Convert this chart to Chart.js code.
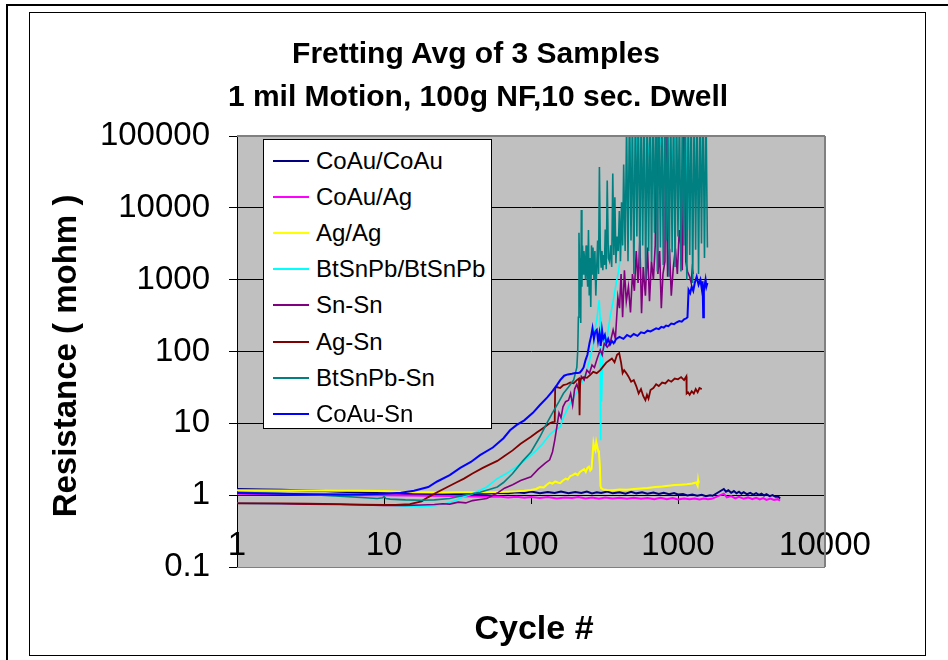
<!DOCTYPE html>
<html><head><meta charset="utf-8">
<script src="https://cdn.jsdelivr.net/npm/chart.js@4.4.1/dist/chart.umd.min.js"></script>
<style>
html,body{margin:0;padding:0;background:#fff;}
#wrap{position:relative;width:948px;height:660px;overflow:hidden;font-family:"Liberation Sans",Arial,sans-serif;color:#000;}
#c{position:absolute;left:0;top:0;}
.frame{position:absolute;left:29px;top:12px;width:895px;height:642px;border:1px solid #000;}
.outerL{position:absolute;left:6px;top:4px;width:2px;height:660px;background:#000;}
.outerT{position:absolute;left:6px;top:4px;width:942px;height:2px;background:#000;}
.t{position:absolute;font-weight:bold;white-space:nowrap;text-align:center;}
#legend{position:absolute;left:263px;top:139px;width:227px;height:288px;background:#fff;border:1px solid #000;}
.li{position:absolute;left:0;width:227px;height:36px;line-height:36px;font-size:24px;}
.li span.sw{position:absolute;left:9px;top:17px;width:36px;height:2px;}
.li span.tx{position:absolute;left:52px;top:0;}
</style></head>
<body><div id="wrap">
<div class="outerL"></div><div class="outerT"></div>
<div class="frame"></div>
<canvas id="c" width="948" height="660"></canvas>
<div class="t" style="left:0;width:952px;top:37px;font-size:30px;line-height:32px;">Fretting Avg of 3 Samples</div>
<div class="t" style="left:0;width:956px;top:80px;font-size:30px;line-height:32px;">1 mil Motion, 100g NF,10 sec. Dwell</div>
<div class="t" style="left:-135px;width:400px;top:339px;font-size:33px;line-height:34px;transform:rotate(-90deg);">Resistance ( mohm )</div>
<div class="t" style="left:334px;width:400px;top:609px;font-size:34px;line-height:36px;">Cycle #</div>
<div id="legend"></div>
</div>
<script>
const xTicks = [1, 10, 100, 1000, 10000];
const yTicks = [0.1, 1, 10, 100, 1000, 10000, 100000];

const seriesNames = ["CoAu/CoAu", "CoAu/Ag", "Ag/Ag", "BtSnPb/BtSnPb", "Sn-Sn", "Ag-Sn", "BtSnPb-Sn", "CoAu-Sn"];
const seriesColors = ["#000080", "#FF00FF", "#FFFF00", "#00FFFF", "#800080", "#800000", "#008080", "#0000FF"];

const coauCoauX = [1,1.5,2,3,4,5,7,10,14,20,28,40,50,60,70,80,90,100,115,130,145,160,180,200,220,240,260,280,300,330,360,400,440,480,520,570,620,680,740,800,870,940,1000,1080,1160,1250,1350,1450,1550,1650,1720,2050,2120,2200,2300,2400,2500,2600,2700,2800,2950,3100,3250,3400,3550,3700,3850,4000,4200,4400,4600,4800,4950];
const coauCoauY = [1.22,1.2,1.19,1.16,1.14,1.12,1.09,1.06,1.04,1.03,1.03,1.04,1.05,1.08,1.06,1.1,1.07,1.12,1.06,1.11,1.07,1.12,1.06,1.11,1.07,1.12,1.06,1.1,1.07,1.12,1.06,1.1,1.05,1.11,1.06,1.1,1.05,1.09,1.04,1.08,1.03,1.07,1.02,1.04,0.99,1.02,0.98,1.01,0.97,1.0,0.98,1.22,1.12,1.17,1.08,1.14,1.06,1.12,1.05,1.1,1.03,1.08,1.02,1.07,1.01,1.05,0.99,1.03,0.97,1.0,0.95,0.96,0.9];

const coauAgX = [1,2,3,5,7,10,15,20,30,40,50,60,70,80,90,100,115,130,150,170,190,210,235,260,290,320,360,400,450,500,560,620,690,760,840,920,1000,1100,1200,1300,1400,1500,1600,1700,2050,2150,2300,2450,2600,2800,3000,3200,3400,3600,3800,4000,4250,4500,4750,4950];
const coauAgY = [1.05,1.03,1.02,1.01,1.0,1.0,0.99,0.98,0.97,0.96,0.95,0.96,0.93,0.95,0.92,0.94,0.91,0.94,0.9,0.93,0.91,0.94,0.9,0.93,0.89,0.93,0.9,0.92,0.89,0.92,0.89,0.91,0.88,0.92,0.88,0.91,0.87,0.9,0.88,0.9,0.87,0.9,0.88,0.89,1.05,0.93,0.97,0.9,0.95,0.89,0.93,0.88,0.92,0.87,0.91,0.86,0.9,0.86,0.88,0.84];

const agAgX = [1,2,3,5,7,10,13,16,20,25,30,40,50,60,70,80,90,100,108,115,122,128,134,140,146,152,158,165,172,178,185,192,200,208,215,222,230,236,242,248,253,258,262,266,270,274,278,282,286,290,294,297,300,310,330,360,400,450,500,560,620,700,780,860,950,1050,1150,1250,1330,1360,1370,1380];
const agAgY = [1.17,1.16,1.16,1.15,1.15,1.14,1.12,1.1,1.1,1.09,1.1,1.1,1.1,1.11,1.12,1.13,1.15,1.18,1.22,1.3,1.28,1.4,1.5,1.45,1.55,1.5,1.47,1.6,1.7,1.65,1.85,1.9,2.0,1.9,2.1,2.2,2.3,2.1,2.4,2.5,2.2,2.3,3.5,5.3,4.5,4.2,5.5,4.8,4.2,3.8,2.6,1.35,1.25,1.2,1.18,1.17,1.2,1.19,1.22,1.24,1.26,1.3,1.32,1.35,1.38,1.4,1.42,1.45,1.5,1.35,1.6,1.45];

const btBtX = [1,2,3,5,7,10,12,14,16,18,20,23,26,30,35,40,45,50,59,68,80,90,100,110,120,134,145,158,166,175,185,195,205,215,228,240,250,258,265,272,280,286,291,295,297,299,302,306,312,318,325,335,345,360,380,395,410,425,440,460,480,500,515,525,540,560,580,600,625,650,680,710,740,780,820,860,900,950,1000,1050,1100,1120,1140,1160,1180];
const btBtY = [0.77,0.76,0.76,0.75,0.74,0.73,0.72,0.70,0.70,0.69,0.70,0.72,0.76,0.83,0.95,1.05,1.17,1.3,1.7,2.0,2.5,3.0,3.6,4.3,5.2,7.0,8.0,8.9,12,15,19,23,27,33,40,55,75,100,115,200,270,400,520,300,5.8,30,20,60,110,160,130,200,300,470,900,1350,2500,4900,10000,20000,80000,200000,150000,60000,30000,90000,200000,150000,70000,40000,90000,200000,60000,120000,200000,80000,40000,100000,30000,8500,60000,200000,30000,4900,60000];

const snSnX = [1,2,3,5,7,10,14,18,22,25,28,32,36,40,45,50,59,66,75,85,100,112,125,134,140,145,150,155,160,165,172,180,186,192,198,205,212,220,230,240,250,260,270,282,296,305,315,330,345,362,375,390,400,410,420,432,445,460,475,490,505,520,535,550,565,580,600,620,640,660,680,700,715,730,750,770,790,815,825,850,875,900,930,960,990,1020,1050,1070,1100,1130,1160,1200,1230,1250,1270];
const snSnY = [0.77,0.76,0.75,0.74,0.73,0.72,0.72,0.73,0.74,0.76,0.75,0.8,0.78,0.84,0.87,0.9,1.07,1.25,1.4,1.6,1.8,2.3,2.8,3.1,4.0,5.8,9,14,12,17,20,21,26,18,30,35,28,45,40,55,50,65,60,80,105,90,130,115,130,200,150,570,400,1200,300,1350,500,800,350,1200,700,2500,900,3500,340,1500,600,2800,500,1800,1000,3000,200000,1200,2500,400,1200,1800,200000,1100,2700,600,1500,2700,1200,4900,2800,1350,200000,1800,1300,1100,900,1400,1200];

const agSnX = [1,2,3,5,7,10,12,15,18,20,23,27,31,35,40,47,53,59,66,75,85,100,110,120,134,140,145,146,150,158,166,175,185,195,205,212,214,216,220,228,240,252,265,280,296,310,325,340,355,370,385,398,410,420,430,445,460,480,500,520,540,560,580,600,615,630,650,680,710,740,780,820,860,900,950,1000,1050,1100,1140,1145,1170,1200,1240,1280,1320,1360,1400,1450];
const agSnY = [0.77,0.77,0.76,0.75,0.74,0.73,0.73,0.75,0.82,0.94,1.1,1.3,1.5,1.7,2.0,2.4,2.7,3.0,3.5,4.2,5.2,6.5,7.5,8.5,10,10.4,10.5,31,32,31,34,35,37,36,40,42,13,41,42,44,43,47,52,50,55,62,70,75,80,71,90,95,70,50,55,50,45,38,40,33,26,30,24,21,25,22,29,31,35,33,37,36,40,38,42,41,44,40,45,26,27,25,28,26,30,27,31,30];

const btSnX = [1,2,3,5,7,9,9.8,10,10.3,11,14,18,22,28,35,45,52,59,65,75,88,100,115,128,140,155,166,180,195,205,208,210,212,214,216,218,220,222,224,226,229,232,235,237,240,243,246,249,252,255,258,261,264,268,272,276,280,284,288,292,296,300,304,308,312,316,320,325,330,336,342,348,354,360,366,372,378,385,392,399,406,413,420,427,437,447,457,468,479,490,501,513,525,537,550,562,575,589,603,617,631,646,661,676,692,708,724,741,759,776,794,813,832,851,871,891,912,933,955,977,1000,1023,1047,1072,1096,1122,1148,1175,1202,1230,1259,1288,1318,1349,1380,1413,1445,1479,1514,1549,1585];
const btSnY = [1.1,1.05,1.02,0.97,0.93,0.9,0.92,0.96,0.9,0.88,0.86,0.85,0.86,0.9,1.0,1.1,1.2,1.3,1.5,2.0,3.0,4.0,6.5,10,14,20,26,32,40,60,105,300,4500,1500,2000,250,9300,800,3000,1200,2500,1800,1000,3000,1500,800,4900,600,2000,415,3000,1200,2800,1000,2500,600,1500,3500,1200,37000,2800,1500,2500,1350,2200,1600,5000,1400,24000,2000,1800,3000,1500,30000,2200,14000,1700,4000,2500,9000,1800,12000,3000,40000,2500,150000,1800,300000,3500,200000,1200,300000,4000,300000,1500,300000,3000,300000,1000,300000,2500,300000,1800,300000,4500,300000,1300,300000,2800,300000,1600,300000,3500,300000,1100,300000,2400,300000,1500,300000,4000,300000,1300,300000,3000,300000,1000,300000,2200,300000,900,300000,2600,300000,1200,300000,3200,300000,2000,300000,2800];

const coauSnX = [1,2,3,5,7,10,13,16,20,23,28,33,39,45,55,65,72,80,90,103,115,129,140,150,158,168,178,190,200,208,215,222,228,235,242,250,256,262,268,274,280,286,292,298,304,310,318,326,335,345,355,365,380,400,425,450,475,500,530,560,590,620,650,680,710,740,770,800,830,860,900,940,980,1020,1060,1100,1140,1160,1180,1210,1240,1270,1300,1340,1380,1420,1450,1470,1485,1500,1520,1540,1560,1585];
const coauSnY = [1.07,1.05,1.03,1.02,1.02,1.05,1.08,1.15,1.3,1.55,1.9,2.4,2.9,3.6,4.6,6.2,8,9.5,11,14,18,23,28,34,40,46,48,49,50,50,51,55,60,76,90,130,160,210,150,190,200,140,180,120,200,150,170,130,150,125,140,130,150,160,150,170,160,175,165,185,180,195,190,200,210,205,220,215,230,225,245,240,255,265,260,280,290,300,720,650,800,700,900,1100,850,1000,750,950,300,700,850,1000,800,900];

const seriesX = [coauCoauX, coauAgX, agAgX, btBtX, snSnX, agSnX, btSnX, coauSnX];
const seriesY = [coauCoauY, coauAgY, agAgY, btBtY, snSnY, agSnY, btSnY, coauSnY];
const seriesWidths = [2, 2, 2, 1.6, 1.6, 1.8, 1.6, 2];

const FONT = '"Liberation Sans", Arial, sans-serif';

const datasets = seriesNames.map((name, i) => ({
  label: name,
  data: seriesX[i].map((x, k) => ({x: x, y: seriesY[i][k]})),
  borderColor: seriesColors[i],
  backgroundColor: seriesColors[i],
  borderWidth: seriesWidths[i],
  pointRadius: 0,
  tension: 0,
  fill: false,
  order: seriesNames.length - 1 - i
}));

const plotFrame = {
  id: 'plotFrame',
  beforeDraw(c) {
    const a = c.chartArea, ctx = c.ctx;
    ctx.save();
    ctx.fillStyle = '#C0C0C0';
    ctx.fillRect(a.left, a.top, a.right - a.left, a.bottom - a.top);
    ctx.restore();
  },
  afterDatasetsDraw(c) {
    const a = c.chartArea, ctx = c.ctx;
    ctx.save();
    ctx.strokeStyle = '#808080';
    ctx.lineWidth = 2;
    ctx.beginPath();
    ctx.moveTo(a.left, a.top); ctx.lineTo(a.right, a.top);
    ctx.moveTo(a.right, a.top); ctx.lineTo(a.right, a.bottom);
    ctx.stroke();
    ctx.lineWidth = 1;
    ctx.beginPath();
    ctx.moveTo(a.left, a.bottom + 0.5); ctx.lineTo(a.right, a.bottom + 0.5);
    ctx.stroke();
    ctx.restore();
  }
};

new Chart(document.getElementById('c'), {
  type: 'line',
  data: {datasets},
  options: {
    responsive: false,
    animation: false,
    devicePixelRatio: 1,
    layout: {padding: {left: 0, top: 136, right: 123, bottom: 93}},
    plugins: {legend: {display: false}, title: {display: false}, tooltip: {enabled: false}},
    scales: {
      x: {
        type: 'logarithmic', min: 1, max: 10000,
        position: {y: 1},
        afterBuildTicks: s => { s.ticks = xTicks.map(v => ({value: v})); },
        grid: {drawOnChartArea: false, drawTicks: true, tickLength: 8, color: '#000', lineWidth: 1},
        border: {display: true, color: '#000', width: 1},
        ticks: {font: {size: 33, family: FONT}, color: '#000', padding: 23, maxRotation: 0, autoSkip: false,
                callback: v => String(v)}
      },
      y: {
        type: 'logarithmic', min: 0.1, max: 100000,
        position: 'left',
        afterFit: s => { s.width = 237; },
        afterBuildTicks: s => { s.ticks = yTicks.map(v => ({value: v})); },
        grid: {
          color: c => (c.tick && (c.tick.value === 0.1 || c.tick.value === 100000)) ? '#808080' : '#000',
          tickColor: '#000', tickLength: 8, drawTicks: true, lineWidth: 1
        },
        border: {display: true, color: '#000', width: 1},
        ticks: {font: {size: 33, family: FONT}, color: '#000', padding: 19, autoSkip: false,
                callback: v => String(v)}
      }
    }
  },
  plugins: [plotFrame]
});

const lg = document.getElementById('legend');
seriesNames.forEach((n, i) => {
  const row = document.createElement('div');
  row.className = 'li';
  row.style.top = (21 + 36.1 * i - 18) + 'px';
  const sw = document.createElement('span');
  sw.className = 'sw';
  sw.style.background = seriesColors[i];
  const tx = document.createElement('span');
  tx.className = 'tx';
  tx.textContent = n;
  row.appendChild(sw); row.appendChild(tx);
  lg.appendChild(row);
});
</script>
</body></html>
